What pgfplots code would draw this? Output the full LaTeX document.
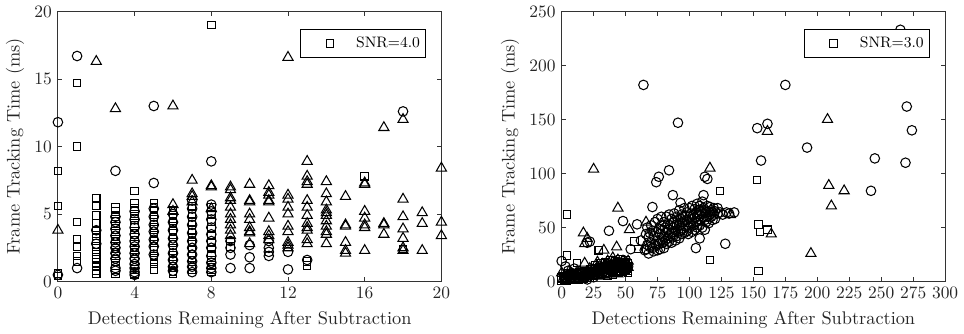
\documentclass[border=0pt]{standalone}
\usepackage{pgfplots}
\pgfplotsset{compat=1.18}
\pgfplotsset{
  myax/.style={
    scale only axis, width=220pt, height=155pt,
    axis line style={black!80, line width=0.5pt},
    tick align=inside, major tick length=2.5pt,
    tick style={black!80, line width=0.5pt},
    every tick label/.append style={font=\fontsize{10}{12}\selectfont, text=black!85},
    label style={font=\fontsize{10.5}{12.5}\selectfont, text=black!85},
    xlabel={Detections Remaining After Subtraction},
    ylabel={Frame Tracking Time (ms)},
    ylabel style={yshift=-1pt},
    legend style={at={(rel axis cs:0.959,0.934)}, anchor=north east, draw=black, line width=0.5pt,
      font=\fontsize{8.7}{10}\selectfont, fill=white, inner xsep=1pt, inner ysep=2pt},
  },
  sq/.style={only marks, mark=square, mark size=2.15pt, mark options={black, line width=0.6pt},
    legend image code/.code={\path (0cm,-0.1cm) (1.0cm,0.1cm); \draw[##1] plot coordinates {(0.55cm,0cm)};}},
  ci/.style={only marks, mark=o, mark size=2.75pt, mark options={black, line width=0.6pt}},
  tr/.style={only marks, mark=triangle, mark size=3.35pt, mark options={black, line width=0.6pt}},
}
\begin{document}
\begin{tikzpicture}
\begin{axis}[myax, xmin=0, xmax=20, ymin=0, ymax=20,
  xtick={0,4,8,12,16,20}, ytick={0,5,10,15,20}]
\addplot[sq] coordinates {
(0,0.4)(0,0.6)(0,5.6)(0,8.2)
(1,14.7)(1,10.0)(1,4.4)(1,3.1)(1,2.6)(1,1.9)(1,1.5)
(2,6.2)(2,5.6)(2,4.9)(2,4.3)(2,3.8)(2,3.4)(2,3.0)(2,2.6)(2,2.2)(2,1.8)(2,1.4)(2,1.1)(2,0.8)(2,0.6)
(3,5.5)(3,5.2)(3,4.8)(3,4.5)(3,4.1)(3,3.7)(3,3.3)(3,3.0)(3,2.6)(3,2.2)(3,1.9)(3,1.5)(3,1.2)(3,0.9)(3,0.6)
(4,6.7)(4,5.8)(4,5.4)(4,5.0)(4,4.7)(4,4.3)(4,4.0)(4,3.6)(4,3.3)(4,2.9)(4,2.5)(4,2.2)(4,1.8)(4,1.5)(4,1.2)(4,0.9)(4,0.6)(4,0.5)
(5,5.8)(5,5.5)(5,5.2)(5,4.8)(5,4.4)(5,4.0)(5,3.6)(5,3.3)(5,3.0)(5,2.6)(5,2.3)(5,1.9)(5,1.6)(5,1.3)(5,0.9)
(6,5.3)(6,4.9)(6,4.5)(6,4.1)(6,3.7)(6,3.3)(6,2.9)(6,2.5)(6,2.1)(6,1.7)(6,1.3)(6,1.0)(6,0.7)(6,0.6)
(7,5.6)(7,5.0)(7,4.4)(7,3.8)(7,3.3)(7,2.9)(7,2.4)(7,2.0)(7,1.6)(7,1.2)(7,0.9)
(8,19.0)(8,5.5)(8,5.0)(8,4.4)(8,3.9)(8,3.4)(8,2.9)(8,2.4)(8,2.0)(8,1.6)(8,1.2)(8,0.9)(8,0.7)
(9,3.0)(9,2.6)(13,1.2)(13,1.5)(16,7.8)(18,2.4)
};
\addlegendentry{SNR=4.0}
\addplot[ci, forget plot] coordinates {
(0,11.8)(0,0.5)(1,16.7)(1,1.0)(2,3.8)(2,2.8)
(3,8.2)(3,4.8)(3,4.4)(3,3.9)(3,3.4)(3,2.9)(3,2.5)(3,2.1)(3,1.7)(3,1.0)(3,0.8)
(4,5.2)(4,4.6)(4,4.0)(4,3.5)(4,3.0)(4,2.6)(4,2.1)(4,1.7)(4,1.3)(4,1.0)(4,0.7)(4,0.5)
(5,13.0)(5,7.3)(5,5.4)(5,4.8)(5,4.2)(5,3.7)(5,3.1)(5,2.6)(5,2.0)
(6,5.0)(6,4.4)(6,3.8)(6,3.2)(6,2.7)(6,2.1)(6,1.6)(6,1.1)(6,0.8)
(7,6.0)(7,5.4)(7,4.8)(7,4.2)(7,3.6)(7,3.0)(7,2.5)(7,2.0)(7,1.5)(7,1.1)(7,0.7)
(8,8.9)(8,5.7)(8,5.2)(8,4.6)(8,4.0)(8,3.5)(8,3.0)(8,2.5)(8,1.9)(8,1.4)(8,1.0)(8,0.7)
(9,3.0)(9,2.5)(9,2.0)(9,1.0)(10,2.7)(10,1.8)(10,1.0)
(11,3.0)(11,2.5)(11,2.2)(11,1.9)(12,2.2)(12,0.9)(13,1.6)(18,12.6)
};
\addplot[tr, forget plot] coordinates {
(0,3.8)(2,16.3)(3,12.8)(6,13.0)(6,5.7)(6,5.2)
(7,7.5)(7,6.5)(7,6.3)(7,5.9)(8,7.1)(8,7.0)(8,5.4)
(9,7.0)(9,6.8)(9,6.2)(9,6.0)(9,5.5)(9,5.0)(9,4.6)(9,4.2)(9,3.8)(9,3.4)
(10,7.2)(10,6.0)(10,5.9)(10,5.0)(10,4.6)(10,4.0)(10,3.7)(10,3.6)(10,2.8)
(11,7.1)(11,6.6)(11,6.4)(11,6.0)(11,5.9)(11,4.7)(11,3.7)(11,3.4)(11,3.1)
(12,16.6)(12,6.4)(12,6.1)(12,5.5)(12,5.0)(12,4.1)(12,3.7)(12,2.9)(12,2.7)(12,2.5)
(13,8.9)(13,7.8)(13,7.4)(13,7.2)(13,6.0)(13,5.5)(13,4.9)(13,4.3)(13,4.0)(13,3.8)(13,3.1)(13,2.8)
(14,7.4)(14,6.5)(14,5.9)(14,5.3)(14,5.1)(14,4.9)(14,4.5)(14,4.1)(14,3.7)(14,3.5)(14,2.8)
(15,6.3)(15,4.2)(15,4.1)(15,2.9)(15,2.3)(15,2.1)
(16,7.3)(16,7.2)(16,5.2)(16,4.7)(16,4.2)(16,4.0)(16,2.3)
(17,11.4)(17,4.3)(17,4.2)(17,3.5)
(18,12.0)(18,6.1)(18,4.8)(18,3.9)(18,3.2)(18,2.5)(18,2.3)
(19,5.1)(19,4.3)(19,2.3)(20,8.4)(20,4.4)(20,3.4)
};
\end{axis}
\begin{axis}[myax, at={(289pt,0)}, xmin=0, xmax=300, ymin=0, ymax=250,
  xtick={0,25,...,300}, ytick={0,50,...,250}]
\addplot[sq] coordinates {
(0,3)(1,5)(2,2)(3,4)(4,62)(4,24)(5,8)(6,3)(7,5)(8,2)(9,6)(10,4)(11,3)(12,17)(12,7)(13,2)(14,5)(15,8)(16,4)(17,3)(18,9)(19,6)(20,5)(21,10)(22,4)(23,7)(24,11)(25,6)(26,9)(27,8)(28,12)(29,29)(29,10)(30,7)(31,13)(32,9)(33,11)(34,14)(35,8)(36,12)(37,15)(38,10)(39,13)(40,16)(41,11)(42,14)(43,9)(44,17)(45,12)(46,15)(47,18)(48,11)(49,14)(50,16)(51,13)(52,10)
(0,1)(0,4)(2,1)(2,5)(4,1)(4,6)(6,2)(6,6)(8,2)(8,7)(10,2)(10,8)(12,3)(12,8)(14,3)(14,9)(16,3)(16,9)(18,4)(18,10)(20,4)(20,10)(22,5)(22,11)(24,5)(24,11)(26,6)(26,12)(28,6)(28,12)(30,6)(30,13)(32,7)(32,13)(34,7)(34,14)(36,8)(36,14)(38,8)(38,15)(40,9)(40,15)(42,9)(42,16)(44,10)(44,16)(46,10)(46,17)(48,11)(48,17)(50,11)(50,18)(52,12)(52,17)
(26,15)(30,17)(34,18)(38,20)(42,19)(46,21)(50,20)(36,5)(40,6)(44,8)(48,9)(52,8)
(57,37)(60,30)(124,84)(116,20)(153,94)(154,53)(155,46)(161,48)(154,10)
};
\addlegendentry{SNR=3.0}
\addplot[tr, forget plot] coordinates {
(0,8)(2,5)(4,3)(6,10)(8,6)(10,4)(12,9)(14,7)(16,5)(17,45)(18,35)(18,17)(20,40)(20,8)(22,12)(24,6)(25,104)(26,10)(28,14)(30,8)(32,12)(33,29)(34,16)(36,11)(38,14)(40,22)(42,13)(43,32)(44,68)(44,7)(46,16)(48,12)(50,18)(52,13)(53,48)
(1,2)(3,3)(5,4)(7,2)(9,5)(11,6)(13,3)(15,7)(17,4)(19,8)(21,5)(23,9)(25,7)(27,11)(29,8)(31,12)(33,9)(35,14)(37,10)(39,16)(41,12)(43,15)(45,11)(47,14)(49,13)(51,16)
(28,18)(32,16)(36,19)(40,18)(44,20)(48,19)(52,19)(30,5)(34,6)(38,7)
(66,55)(132,62)(116,105)(161,139)(164,44)(195,26)(208,150)(209,89)(211,70)(221,84)
};
\addplot[ci, forget plot] coordinates {
(0,19)(3,14)(5,6)(5,10)(8,8)(10,12)(12,4)(14,6)(18,8)(20,36)(22,37)(25,9)(30,14)(35,12)(37,47)(40,15)(45,13)(48,56)(50,12)(54,30)(59,53)(62,38)(64,182)(65,29)
(28,10)(32,12)(36,16)(40,12)(44,15)(48,16)(52,14)(15,3)(20,2)(25,4)
(66,30)(66,44)(67,34)(67,50)(68,26)(68,41)(69,45)(69,32)(70,36)(70,52)(71,31)(71,47)(71,69)(72,42)(72,28)(73,35)(73,55)(74,46)(74,33)(74,92)(75,38)(75,58)(75,29)(76,49)(76,35)(76,97)(77,44)(77,30)(78,52)(78,38)(78,60)(79,36)(79,48)(80,41)(80,55)(80,31)(81,50)(81,38)(82,46)(82,60)(82,35)(83,40)(83,53)(84,48)(84,37)(84,62)(84,103)(85,52)(85,42)(86,45)(86,58)(86,36)(87,50)(87,41)(87,80)(88,55)(88,44)(88,63)(89,47)(89,38)(90,53)(90,60)(90,42)(91,46)(91,57)(91,147)(92,52)(92,40)(92,66)(93,58)(93,47)(93,73)(94,44)(94,55)(94,62)(95,49)(95,60)(96,56)(96,45)(96,68)(97,51)(97,61)(98,47)(98,57)(98,64)(99,55)(99,44)(100,60)(100,50)(100,68)(101,53)(101,63)(102,58)(102,46)(102,70)(103,52)(103,62)(104,59)(104,67)(104,48)(105,55)(105,64)(105,31)(106,61)(106,50)(106,72)(107,56)(107,66)(108,62)(108,52)(108,70)(108,40)(109,57)(109,65)(110,63)(110,50)(110,74)(111,60)(111,68)(111,80)(112,57)(112,66)(112,48)(112,97)(113,64)(113,55)(114,60)(114,70)(114,95)(115,65)(115,54)(116,62)(116,69)(117,60)(117,66)(118,64)(118,57)(119,62)(119,68)(120,65)(120,58)(122,63)(122,68)(124,64)(126,62)(128,35)(129,64)(131,63)(135,64)
(153,142)(156,112)(161,146)(175,182)(192,124)(242,84)(245,114)(265,233)(269,110)(270,162)(274,140)
};
\end{axis}
\end{tikzpicture}
\end{document}
